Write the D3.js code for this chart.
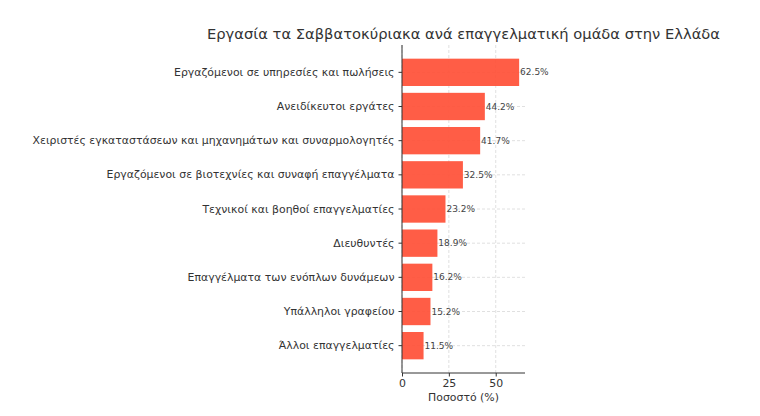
<!DOCTYPE html>
<html>
<head>
<meta charset="utf-8">
<script src="https://cdn.jsdelivr.net/npm/d3@7"></script>
<style>
  body { margin: 0; background: #fff; }
  svg text { font-family: "DejaVu Sans", sans-serif; fill: #333; }
</style>
</head>
<body>
<svg id="chart" width="760" height="416"></svg>
<script>
// --- data ---
const categories = [
    "Εργαζόμενοι σε υπηρεσίες και πωλήσεις",
    "Ανειδίκευτοι εργάτες",
    "Χειριστές εγκαταστάσεων και μηχανημάτων και συναρμολογητές",
    "Εργαζόμενοι σε βιοτεχνίες και συναφή επαγγέλματα",
    "Τεχνικοί και βοηθοί επαγγελματίες",
    "Διευθυντές",
    "Επαγγέλματα των ενόπλων δυνάμεων",
    "Υπάλληλοι γραφείου",
    "Άλλοι επαγγελματίες"
];
const values = [62.5, 44.2, 41.7, 32.5, 23.2, 18.9, 16.2, 15.2, 11.5];
const xTicks = [0, 25, 50];

const title = "Εργασία τα Σαββατοκύριακα ανά επαγγελματική ομάδα στην Ελλάδα";
const xLabel = "Ποσοστό (%)";

// --- layout ---
const svg = d3.select("#chart");
const plotL = 402, plotR = 525, plotT = 45, plotB = 373;
const labelSize = "10.9px";

const x = d3.scaleLinear()
    .domain([0, d3.max(values) * 1.05])
    .range([plotL, plotR]);

const y = d3.scaleBand()
    .domain(categories)
    .range([plotT, plotB])
    .paddingInner(0.2)
    .paddingOuter(0.4);

// grid
svg.append("g")
    .selectAll("line")
    .data(xTicks)
    .enter()
    .append("line")
    .attr("x1", d => x(d)).attr("x2", d => x(d))
    .attr("y1", plotT).attr("y2", plotB)
    .attr("stroke", "#d8d8d8")
    .attr("stroke-dasharray", "3,2")
    .attr("stroke-width", 0.8);

svg.append("g")
    .selectAll("line")
    .data(categories)
    .enter()
    .append("line")
    .attr("x1", plotL).attr("x2", plotR)
    .attr("y1", d => y(d) + y.bandwidth() / 2)
    .attr("y2", d => y(d) + y.bandwidth() / 2)
    .attr("stroke", "#d8d8d8")
    .attr("stroke-dasharray", "3,2")
    .attr("stroke-width", 0.8);

// bars
svg.append("g")
    .selectAll("rect")
    .data(values)
    .enter()
    .append("rect")
    .attr("x", x(0))
    .attr("y", (d, i) => y(categories[i]))
    .attr("width", d => x(d) - x(0))
    .attr("height", y.bandwidth())
    .attr("fill", "#ff4f36")
    .attr("fill-opacity", 0.92);

// value labels
svg.append("g")
    .selectAll("text")
    .data(values)
    .enter()
    .append("text")
    .attr("x", d => x(d + 0.5))
    .attr("y", (d, i) => y(categories[i]) + y.bandwidth() / 2)
    .attr("dy", "0.35em")
    .style("font-size", "9px")
    .style("fill", "#444")
    .text(d => d.toFixed(1) + "%");

// y axis
const yAxis = svg.append("g")
    .attr("transform", `translate(${plotL},0)`)
    .call(d3.axisLeft(y).tickSize(3.5).tickPadding(4));
yAxis.select(".domain").attr("stroke", "#333").attr("stroke-width", 1).attr("d", `M0,${plotT}V${plotB}`);
yAxis.selectAll(".tick line").attr("stroke", "#333");
yAxis.selectAll(".tick text").style("font-size", labelSize).attr("fill", "#333");

// x axis
const xAxis = svg.append("g")
    .attr("transform", `translate(0,${plotB})`)
    .call(d3.axisBottom(x).tickValues(xTicks).tickSize(3.5).tickPadding(3));
xAxis.select(".domain").attr("stroke", "#333").attr("stroke-width", 1).attr("d", `M${plotL},0H${plotR}`);
xAxis.selectAll(".tick line").attr("stroke", "#333");
xAxis.selectAll(".tick text").style("font-size", labelSize).attr("fill", "#333");

// x label
svg.append("text")
    .attr("x", (plotL + plotR) / 2)
    .attr("y", 401)
    .attr("text-anchor", "middle")
    .style("font-size", labelSize)
    .text(xLabel);

// title
svg.append("text")
    .attr("x", (plotL + plotR) / 2)
    .attr("y", 39)
    .attr("text-anchor", "middle")
    .style("font-size", "14.7px")
    .text(title);
</script>
</body>
</html>
